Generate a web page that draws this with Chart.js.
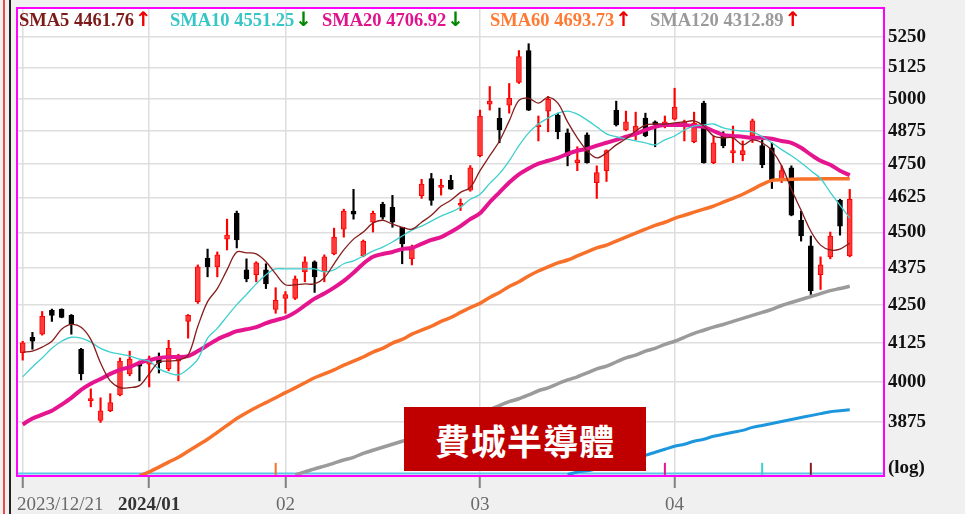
<!DOCTYPE html>
<html><head><meta charset="utf-8">
<script src="https://cdn.jsdelivr.net/npm/chart.js@4.4.1/dist/chart.umd.min.js"></script>
<style>
html,body{margin:0;padding:0;background:#f0f0f0;}
#wrap{position:relative;width:965px;height:514px;overflow:hidden;}
#c{position:absolute;left:0;top:0;}
.edge{position:absolute;top:0;height:514px;}
#title{position:absolute;left:404px;top:407px;width:242px;height:64px;background:#c00000;color:#fff;
font-family:"Noto Sans CJK TC","Noto Sans CJK SC",sans-serif;font-size:35px;font-weight:bold;
display:flex;align-items:center;justify-content:center;letter-spacing:1px;}
</style></head>
<body><div id="wrap"><canvas id="c" width="965" height="514"></canvas>
<div class="edge" style="left:3px;width:2px;background:#f04848"></div>
<div class="edge" style="left:9px;width:2px;background:#222"></div>
<div id="title">費城半導體</div></div>
<script>
const dates = ['2023/12/21','2023/12/22','2023/12/26','2023/12/27','2023/12/28','2023/12/29',
'2024/01/02','2024/01/03','2024/01/04','2024/01/05','2024/01/08','2024/01/09','2024/01/10','2024/01/11','2024/01/12','2024/01/16','2024/01/17','2024/01/18','2024/01/19','2024/01/22','2024/01/23','2024/01/24','2024/01/25','2024/01/26','2024/01/29','2024/01/30','2024/01/31',
'2024/02/01','2024/02/02','2024/02/05','2024/02/06','2024/02/07','2024/02/08','2024/02/09','2024/02/12','2024/02/13','2024/02/14','2024/02/15','2024/02/16','2024/02/20','2024/02/21','2024/02/22','2024/02/23','2024/02/26','2024/02/27','2024/02/28','2024/02/29',
'2024/03/01','2024/03/04','2024/03/05','2024/03/06','2024/03/07','2024/03/08','2024/03/11','2024/03/12','2024/03/13','2024/03/14','2024/03/15','2024/03/18','2024/03/19','2024/03/20','2024/03/21','2024/03/22','2024/03/25','2024/03/26','2024/03/27','2024/03/28',
'2024/04/01','2024/04/02','2024/04/03','2024/04/04','2024/04/05','2024/04/08','2024/04/09','2024/04/10','2024/04/11','2024/04/12','2024/04/15','2024/04/16','2024/04/17','2024/04/18','2024/04/19','2024/04/22','2024/04/23','2024/04/24','2024/04/25'];

const open  = [4093,4143,4153,4232,4235,4215,4104,3941,3880,3910, 3959,4025,4060,4056,4076,4041,4066,4195,4261,4410, 4379,4476,4568,4369,4352,4369,4235,4272,4272,4362, 4397,4362,4424,4511,4576,4417,4536,4601,4590,4518, 4407,4632,4695,4662,4688,4597,4652,4780,4978,4924, 4974,5064,5193,4890,4951,4936,4867,4754,4859,4680, 4724,4955,4878,4867,4924,4909,4893,4920,4901,4833, 4982,4754,4855,4791,4784,4855,4818,4810,4687,4735, 4543,4452,4352,4414,4615,4417];
const high  = [4130,4159,4228,4236,4237,4218,4107,3978,3950,3963, 4076,4098,4066,4082,4092,4133,4088,4218,4386,4441, 4431,4547,4576,4407,4397,4390,4308,4295,4348,4414, 4400,4421,4515,4583,4655,4473,4576,4608,4633,4518, 4455,4692,4714,4692,4707,4620,4743,4955,5048,4963, 5060,5193,5221,4932,5009,4943,4882,4814,4867,4742, 4802,4990,4951,4947,4943,4913,4932,5041,4916,4947, 4990,4855,4871,4893,4836,4920,4840,4829,4742,4742, 4576,4487,4414,4501,4619,4655];
const low   = [4069,4104,4150,4195,4207,4153,4006,3922,3874,3907, 3956,4019,4003,3984,4028,4035,4003,4140,4255,4345, 4345,4438,4445,4328,4328,4305,4222,4222,4268,4328, 4292,4328,4421,4483,4547,4414,4501,4547,4518,4390, 4386,4622,4597,4634,4655,4578,4648,4776,4955,4829, 4943,5060,4953,4836,4871,4844,4742,4724,4752,4622, 4684,4893,4875,4840,4852,4814,4886,4916,4836,4829, 4752,4750,4810,4754,4761,4830,4735,4658,4680,4559, 4469,4285,4302,4407,4490,4414];
const close = [4125,4130,4212,4215,4208,4185,4025,3947,3910,3935, 4066,4072,4050,4069,4060,4107,4076,4215,4379,4379, 4421,4490,4473,4338,4393,4321,4265,4285,4338,4397, 4345,4414,4483,4576,4565,4469,4568,4554,4536,4459, 4448,4674,4615,4669,4656,4604,4735,4932,4990,4878, 5001,5168,4955,4897,4997,4871,4780,4765,4754,4717, 4799,4897,4909,4893,4855,4897,4909,4967,4909,4905, 4754,4829,4818,4799,4799,4913,4746,4691,4724,4561, 4487,4298,4386,4487,4522,4619];

const sma5   = [4095,4098,4111,4130,4169,4185,4176,4136,4060,4003, 3982,3982,3988,4025,4063,4066,4069,4085,4179,4261, 4305,4369,4431,4428,4424,4397,4355,4318,4318,4321, 4321,4342,4390,4438,4476,4501,4533,4543,4529,4518, 4511,4536,4561,4594,4615,4644,4662,4724,4780,4836, 4913,4993,5001,4982,5005,4982,4909,4848,4799,4772, 4791,4821,4844,4874,4897,4901,4901,4905,4909,4913, 4893,4855,4848,4848,4821,4840,4829,4799,4742,4655, 4579,4504,4455,4438,4441,4462];
const sma10  = [4016,4047,4076,4107,4130,4143,4140,4127,4107,4095, 4088,4082,4072,4066,4041,4028,4022,4041,4072,4140, 4172,4212,4251,4285,4321,4352,4372,4372,4372,4372, 4372,4362,4369,4390,4400,4417,4434,4448,4466,4487, 4508,4522,4540,4558,4572,4590,4619,4637,4677,4713, 4761,4818,4867,4901,4924,4943,4951,4939,4916,4890, 4863,4852,4844,4836,4829,4821,4840,4855,4878,4893, 4897,4901,4886,4878,4874,4871,4852,4829,4803,4780, 4754,4724,4695,4644,4597,4551];
const sma20  = [3868,3886,3898,3910,3929,3950,3975,3994,4009,4025, 4038,4047,4060,4069,4076,4079,4079,4082,4098,4117, 4136,4150,4163,4169,4176,4189,4199,4208,4225,4248, 4271,4288,4308,4331,4359,4390,4414,4424,4431,4441, 4445,4459,4473,4483,4501,4522,4547,4568,4608,4644, 4680,4710,4732,4750,4761,4772,4787,4799,4806,4818, 4829,4840,4852,4863,4878,4890,4897,4897,4897,4893, 4890,4874,4859,4855,4852,4848,4848,4844,4836,4829, 4810,4784,4761,4746,4724,4707];
const sma60  = [null,null,null,null,null,null,null,null,null,null, null,null,3714,3726,3740,3755,3769,3787,3805,3823, 3844,3865,3886,3904,3920,3935,3950,3966,3981,3997, 4013,4025,4038,4053,4066,4079,4095,4107,4124,4136, 4153,4166,4179,4195,4208,4225,4241,4255,4275,4292, 4312,4328,4348,4365,4379,4393,4403,4417,4431,4445, 4455,4469,4483,4497,4511,4525,4536,4550,4561,4572, 4583,4594,4608,4622,4637,4655,4673,4688,4691,4692, 4693,4693,4694,4694,4694,4694];
const sma120 = [null,null,null,null,null,null,null,null,null,null, null,null,null,null,null,null,null,null,null,null, null,null,null,null,null,null,null,null,3717,3726, 3735,3743,3752,3761,3769,3781,3790,3799,3808,3817, 3826,3838,3847,3859,3868,3880,3892,3901,3913,3926, 3938,3947,3959,3972,3981,3994,4006,4016,4028,4041, 4050,4063,4076,4085,4098,4107,4120,4130,4143,4156, 4166,4176,4185,4195,4205,4215,4225,4235,4248,4258, 4268,4278,4288,4298,4305,4313];
const sma240 = [null,null,null,null,null,null,null,null,null,null, null,null,null,null,null,null,null,null,null,null, null,null,null,null,null,null,null,null,null,null, null,null,null,null,null,null,null,null,null,null, null,null,null,null,null,null,null,null,null,null, null,null,null,null,null,null,3718,3726,3729,3735, 3740,3749,3758,3767,3775,3784,3793,3802,3808,3817, 3823,3832,3838,3844,3850,3859,3865,3871,3877,3883, 3889,3895,3901,3907,3910,3913];

const legendNames  = ['SMA5','SMA10','SMA20','SMA60','SMA120'];
const legendValues = ['4461.76','4551.25','4706.92','4693.73','4312.89'];
const legendDirs   = ['up','down','down','up','up'];
const yTickValues  = [3875,4000,4125,4250,4375,4500,4625,4750,4875,5000,5125,5250];
const logLabelValue = 3737;
const xTickIdx  = [0,13,27,47,67];
const xTickText = ['2023/12/21','2024/01','02','03','04'];
const signalIdx = [26,66,76,81];
const signalLevel = [3735,3735,3735,3735];

const C5='#861d1d', C10='#3fcfcf', C20='#e5158f', C60='#f7712a', C120='#9b9b9b', C240='#1c96dc';
const signalColors = [C60, C20, C10, C5];
const legendColors = ['#7d1a1a','#36c6c6','#e0138c','#ff7a33','#9a9a9a'];
const legendX = [19,170,322,490,650];

const pts = a => a.map((v,i)=>({x:i,y:v}));
const isUp = close.map((c,i)=> c >= open[i]);
const wickData = low.map((l,i)=>({x:i,y:[l,high[i]]}));
const bodyData = open.map((o,i)=>({x:i,y:[Math.min(o,close[i]),Math.max(o,close[i])]}));

const SERIF = "'Liberation Serif','Times New Roman',serif";

const framePlugin = {
  id:'frame',
  beforeDraw(chart){
    const {ctx, chartArea:a} = chart;
    ctx.save();
    ctx.fillStyle='#f0f0f0'; ctx.fillRect(0,0,chart.width,chart.height);
    ctx.fillStyle='#ffffff'; ctx.fillRect(a.left,a.top,a.right-a.left,a.bottom-a.top);
    ctx.restore();
  },
  beforeDatasetsDraw(chart){
    const {ctx, chartArea:a} = chart;
    ctx.save();
    ctx.strokeStyle='#5cc6e8'; ctx.lineWidth=2;
    ctx.beginPath(); ctx.moveTo(a.left, a.bottom-2.5); ctx.lineTo(a.right, a.bottom-2.5); ctx.stroke();
    ctx.restore();
  },
  afterDatasetsDraw(chart){
    const {ctx, chartArea:a} = chart;
    ctx.save();
    ctx.strokeStyle='#ff00ff'; ctx.lineWidth=2;
    ctx.strokeRect(a.left, a.top, a.right-a.left, a.bottom-a.top);
    ctx.font = "bold 18.5px " + SERIF;
    ctx.textBaseline='alphabetic'; ctx.textAlign='left';
    legendNames.forEach((n,i)=>{
      const t = n+' '+legendValues[i];
      ctx.fillStyle = legendColors[i];
      ctx.fillText(t, legendX[i], 26);
      const w = ctx.measureText(t).width;
      ctx.fillStyle = legendDirs[i]==='up' ? '#ee0000' : '#008800';
      ctx.font = "bold 20px 'DejaVu Sans',sans-serif";
      ctx.fillText(legendDirs[i]==='up' ? '↑' : '↓', legendX[i]+w+1, 26);
      ctx.font = "bold 18.5px " + SERIF;
    });
    ctx.restore();
  },
  afterDraw(chart){
    const {ctx} = chart;
    const xs = chart.scales.x;
    ctx.save();
    ctx.textBaseline='alphabetic';
    xTickIdx.forEach((idx,k)=>{
      const px = xs.getPixelForValue(idx);
      const bold = k===1;
      ctx.font = (bold?'bold ':'') + '19px ' + SERIF;
      ctx.fillStyle = bold ? '#333' : '#6a6a6a';
      if (k===0){ ctx.textAlign='left'; ctx.fillText(xTickText[k], chart.chartArea.left, 510); }
      else { ctx.textAlign='center'; ctx.fillText(xTickText[k], px, 510); }
    });
    ctx.restore();
  }
};

new Chart(document.getElementById('c'), {
  type:'bar',
  data:{datasets:[
    {type:'line', label:'SMA5', data:pts(sma5), borderColor:C5, borderWidth:1.3, pointRadius:0, tension:0.35, order:1},
    {type:'line', label:'SMA10', data:pts(sma10), borderColor:C10, borderWidth:1.3, pointRadius:0, tension:0.35, order:2},
    {type:'line', label:'SMA20', data:pts(sma20), borderColor:C20, borderWidth:4, pointRadius:0, tension:0.3, order:3},
    {type:'line', label:'SMA60', data:pts(sma60), borderColor:C60, borderWidth:3.5, pointRadius:0, tension:0.3, order:4},
    {type:'line', label:'SMA120', data:pts(sma120), borderColor:C120, borderWidth:3.5, pointRadius:0, tension:0.3, order:5},
    {type:'line', label:'SMA240', data:pts(sma240), borderColor:C240, borderWidth:3, pointRadius:0, tension:0.3, order:6},
    {type:'scatter', label:'signals', data:signalIdx.map((v,k)=>({x:v,y:signalLevel[k]})), pointStyle:'line', rotation:90, radius:6, borderWidth:2, borderColor:signalColors, backgroundColor:signalColors, order:7},
    {type:'bar', label:'wick', data:wickData, backgroundColor:isUp.map(u=>u?'#ff0000':'#000'), barThickness:1.5, grouped:false, order:9},
    {type:'bar', label:'body', data:bodyData, backgroundColor:isUp.map(u=>u?'#ff3a3a':'#000'), borderColor:isUp.map(u=>u?'#ff0000':'#000'), borderWidth:1, borderSkipped:false, barThickness:5, grouped:false, minBarLength:2, order:8}
  ]},
  options:{
    responsive:false, animation:false, devicePixelRatio:1,
    layout:{padding:{left:17,top:4,right:0,bottom:0}},
    plugins:{legend:{display:false}, tooltip:{enabled:false}},
    scales:{
      x:{type:'linear', min:-0.586, max:88.52, offset:false, bounds:'data',
        afterBuildTicks:s=>{ s.ticks = xTickIdx.map(v=>({value:v})); },
        afterFit:s=>{ s.height=38; s.paddingLeft=0; s.paddingRight=0; },
        ticks:{display:false},
        grid:{offset:false, color:'#dedede', lineWidth:1.5, tickLength:12, tickColor:'#808080', tickWidth:2, drawTicks:true},
        border:{display:false}},
      y:{type:'logarithmic', position:'right', min:3714, max:5370,
        afterBuildTicks:s=>{ s.ticks = yTickValues.concat([logLabelValue]).map(v=>({value:v})); },
        afterFit:s=>{ s.width=81; s.paddingTop=0; s.paddingBottom=0; },
        ticks:{autoSkip:false, padding:4, color:'#111', font:{family:SERIF, size:19, weight:'bold'},
          callback:(v)=> v===logLabelValue ? '(log)' : String(v)},
        grid:{drawTicks:false, lineWidth:1.5, color:c=> (c.tick && c.tick.value===logLabelValue) ? 'rgba(0,0,0,0)' : '#dedede'},
        border:{display:false}}
    }
  },
  plugins:[framePlugin]
});
</script>
</body></html>
